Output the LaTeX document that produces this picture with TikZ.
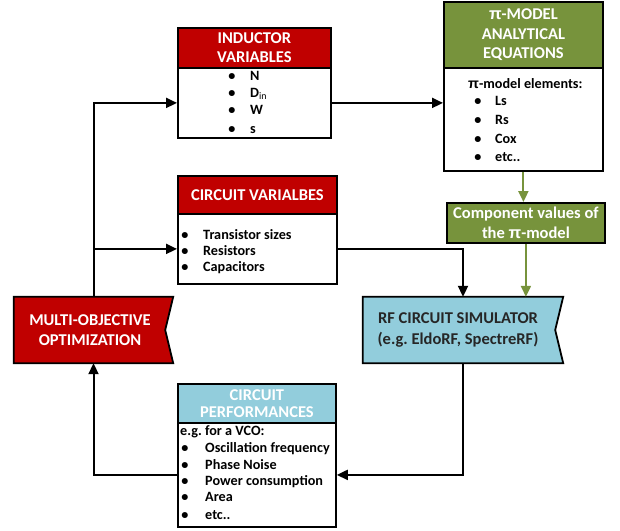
\documentclass[tikz,border=0pt]{standalone}
\usepackage{fontspec}
\setmainfont{Carlito}
\newfontfamily\pifont{Liberation Sans}
\newcommand{\mypi}{{\pifont π}}
\usetikzlibrary{arrows.meta,backgrounds}
\definecolor{dred}{HTML}{C00000}
\definecolor{ogreen}{HTML}{77933C}
\definecolor{lblue}{HTML}{92CDDC}
\frenchspacing
\begin{document}
\begin{tikzpicture}[x=1pt,y=-1pt,
  box/.style={draw=black, line width=1.8pt, inner sep=0pt, anchor=north west},
  hdr/.style={box, text=white, font=\fontsize{16.5}{19}\selectfont\bfseries, align=center},
  itm/.style={font=\fontsize{14.2}{16}\selectfont\bfseries, inner sep=0pt, anchor=west, text height=10pt, text depth=3pt},
  bul/.style={itm, anchor=center},
  arr/.style={line width=2pt, -{Triangle[length=11pt,width=10pt]}},
  garr/.style={arr, draw=ogreen, fill=ogreen},
  flag/.style={draw=black, line width=1.8pt}]
\useasboundingbox (0,0) rectangle (620,530);

% Inductor variables
\node[hdr, fill=dred, minimum width=153pt, minimum height=40pt] (indH) at (177,27) {INDUCTOR\\VARIABLES};
\node[box, fill=white, minimum width=153pt, minimum height=70pt] (indB) at (177,67) {};
\foreach \n/\y/\t in {a/77/N, b/94/D{\mdseries\textsubscript{in}}, c/111/W, d/130/s} {
  \node[bul] (indb\n) at (232,\y) {\textbullet};
  \node[itm] (indt\n) at (250,\y) {\t};
}

% pi-model
\node[hdr, fill=ogreen, minimum width=159pt, minimum height=66pt, font=\fontsize{16.5}{19.5}\selectfont\bfseries] (piH) at (443,1) {\mypi-MODEL\\ANALYTICAL\\EQUATIONS};
\node[box, fill=white, minimum width=159pt, minimum height=103pt] (piB) at (443,67) {};
\node[itm] (piI) at (468,85) {\mypi-model elements:};
\foreach \n/\y/\t in {a/102/Ls, b/121/Rs, c/140/Cox, d/158/etc..} {
  \node[bul] (pib\n) at (478,\y) {\textbullet};
  \node[itm] (pit\n) at (495,\y) {\t};
}

% Component values
\node[hdr, fill=ogreen, minimum width=158pt, minimum height=40pt, font=\fontsize{16.5}{20}\selectfont\bfseries] (comp) at (446,202) {Component values of\\the \mypi-model};

% Circuit variables
\node[hdr, fill=dred, minimum width=159pt, minimum height=38pt] (cvH) at (177,175) {CIRCUIT VARIALBES};
\node[box, fill=white, minimum width=159pt, minimum height=70pt] (cvB) at (177,213) {};
\foreach \n/\y/\t in {a/236/Transistor sizes, b/252/Resistors, c/268/Capacitors} {
  \node[bul] (cvb\n) at (185,\y) {\textbullet};
  \node[itm] (cvt\n) at (203,\y) {\t};
}

% Circuit performances
\node[hdr, fill=lblue, minimum width=158pt, minimum height=39pt, font=\fontsize{16.5}{17}\selectfont\bfseries] (cpH) at (177,383) {CIRCUIT\\PERFORMANCES};
\node[box, fill=white, minimum width=158pt, minimum height=104pt] (cpB) at (177,422) {};
\node[itm] (cpI) at (180,432) {e.g. for a VCO:};
\foreach \n/\y/\t in {a/449/Oscillation frequency, b/466/Phase Noise, c/482/Power consumption, d/498/Area, e/516/etc..} {
  \node[bul] (cpb\n) at (185,\y) {\textbullet};
  \node[itm] (cpt\n) at (205,\y) {\t};
}

% Multi-objective optimization
\node[inner sep=0pt, minimum width=159pt, minimum height=66pt] (mo) at (93.5,330) {};
\node[text=white, font=\fontsize{16.5}{20}\selectfont\bfseries, align=center, inner sep=0pt] (moT) at (90,330) {MULTI-OBJECTIVE\\OPTIMIZATION};

% RF circuit simulator
\node[inner sep=0pt, minimum width=200pt, minimum height=66pt] (rf) at (463,330) {};
\node[text=black!85, font=\fontsize{16.5}{21}\selectfont\bfseries, align=center, inner sep=0pt] (rfT) at (458,330) {RF CIRCUIT SIMULATOR\\(e.g. EldoRF, SpectreRF)};

\begin{pgfonlayer}{background}
\draw[flag, fill=dred] (mo.north west) -- (mo.north east) -- ([xshift=-8pt]mo.east) -- (mo.south east) -- (mo.south west) -- cycle;
\draw[flag, fill=lblue] (rf.north west) -- (rf.north east) -- ([xshift=-8pt]rf.east) -- (rf.south east) -- (rf.south west) -- cycle;
\end{pgfonlayer}

% Connectors
\draw[arr] (mo.north) |- (indB.west);
\draw[arr] (mo.north |- cvB.west) -- (cvB.west);
\draw[arr] (indB.east) -- (indB.east -| piB.west);
\draw[garr] (piB.south) -- (piB.south |- comp.north);
\draw[garr] (comp.south) -- (comp.south |- rf.north);
\draw[arr] (cvB.east) -| (rf.north);
\draw[arr] (rf.south) |- (cpB.east);
\draw[arr] (cpB.west) -| (mo.south);
\end{tikzpicture}
\end{document}
